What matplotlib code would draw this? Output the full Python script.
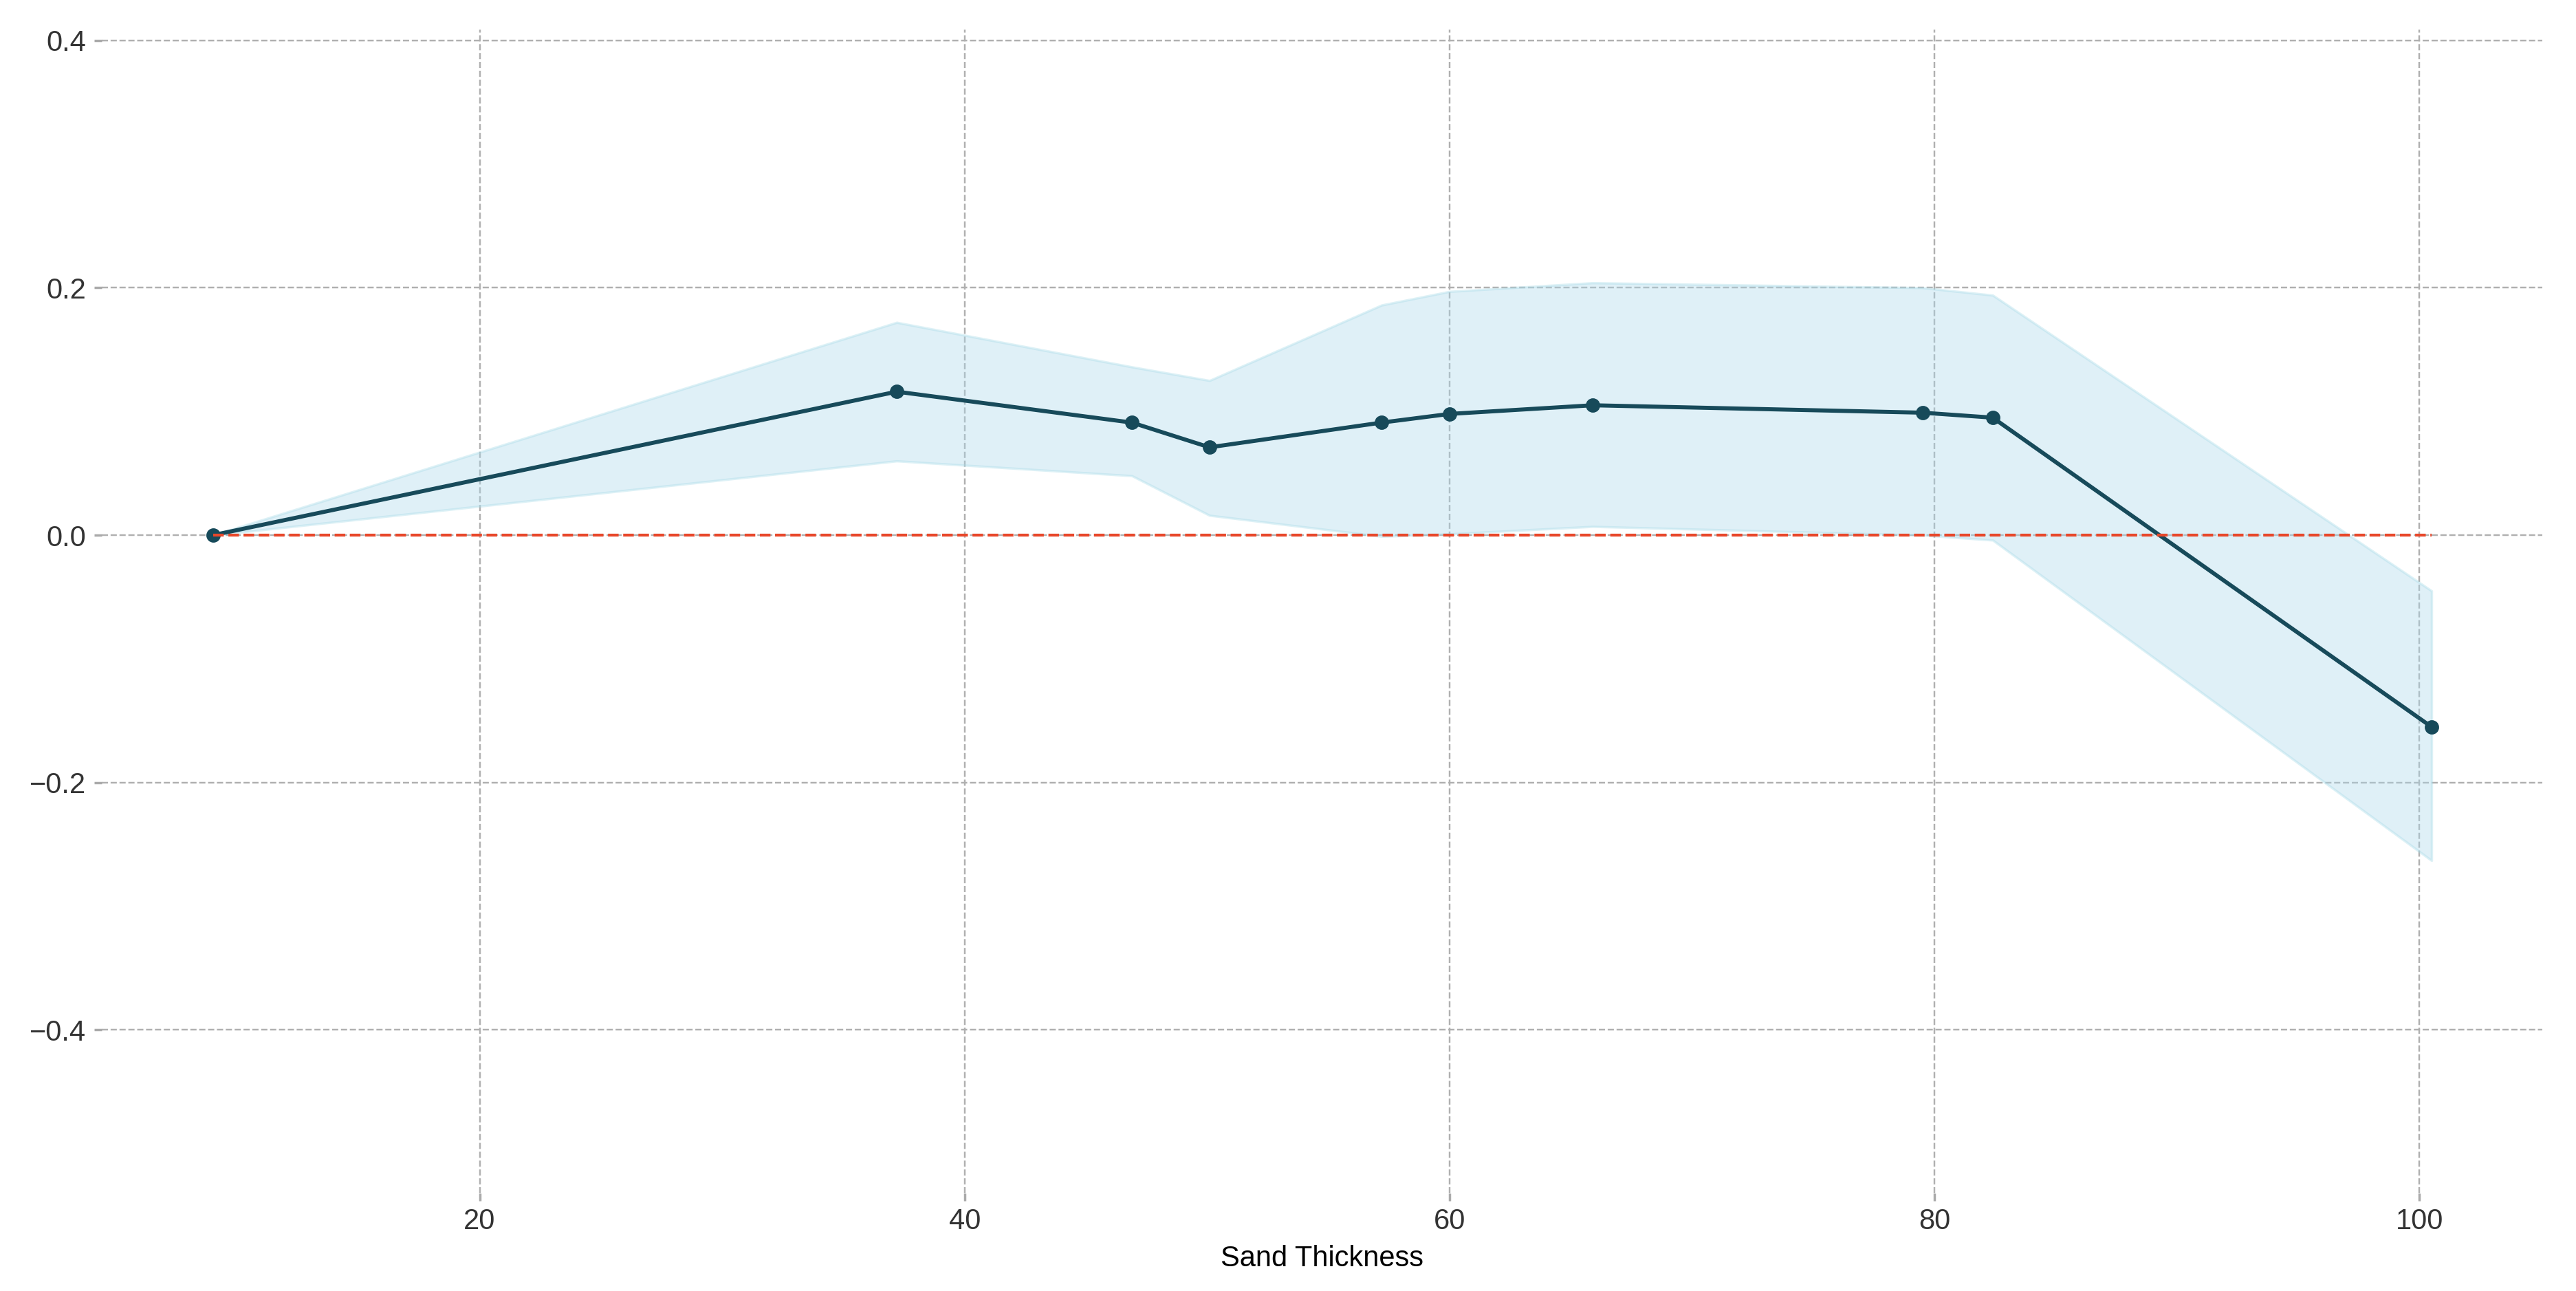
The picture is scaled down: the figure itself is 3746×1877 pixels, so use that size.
import matplotlib
matplotlib.use("Agg")
import matplotlib.pyplot as plt

plt.rcParams["font.family"] = ["Liberation Sans", "DejaVu Sans"]

# values
thickness = [9.0, 37.2, 46.9, 50.1, 57.2, 60.0, 65.9, 79.5, 82.4, 100.5]
effect = [0.0, 0.116, 0.091, 0.071, 0.091, 0.098, 0.105, 0.099, 0.095, -0.155]
upper = [0.0, 0.172, 0.136, 0.125, 0.186, 0.197, 0.204, 0.200, 0.194, -0.045]
lower = [0.0, 0.060, 0.048, 0.016, -0.001, 0.001, 0.007, 0.0, -0.004, -0.263]

fig = plt.figure(figsize=(3746 / 250, 1877 / 250), dpi=250)
ax = fig.add_axes([0.0396, 0.0757, 0.9474, 0.9014])

ax.fill_between(thickness, lower, upper, color="#acd9ec", alpha=0.38,
                edgecolor="#a8dbe8", linewidth=1.0)
ax.plot(thickness, effect, color="#174a5a", linewidth=1.7, marker="o",
        markersize=5)
ax.hlines(0, thickness[0], thickness[-1], colors="#e8472a", linestyles="--",
          linewidth=1.2, zorder=3)

ax.set_ylim(-0.532, 0.4087)
ax.set_yticks([-0.4, -0.2, 0.0, 0.2, 0.4])
ax.set_xticks([20, 40, 60, 80, 100])
ax.grid(True, linestyle="--", color="#b0b0b0", linewidth=0.7)
ax.set_axisbelow(True)
for s in ax.spines.values():
    s.set_visible(False)
ax.tick_params(axis="both", colors="#aaaaaa", labelcolor="#333333",
               labelsize=12, length=3.2, width=1.0)
ax.tick_params(axis="x", pad=3.0)
ax.set_xlabel("Sand Thickness", fontsize=12, color="black", labelpad=4)

fig.savefig("out.png", dpi=250)
